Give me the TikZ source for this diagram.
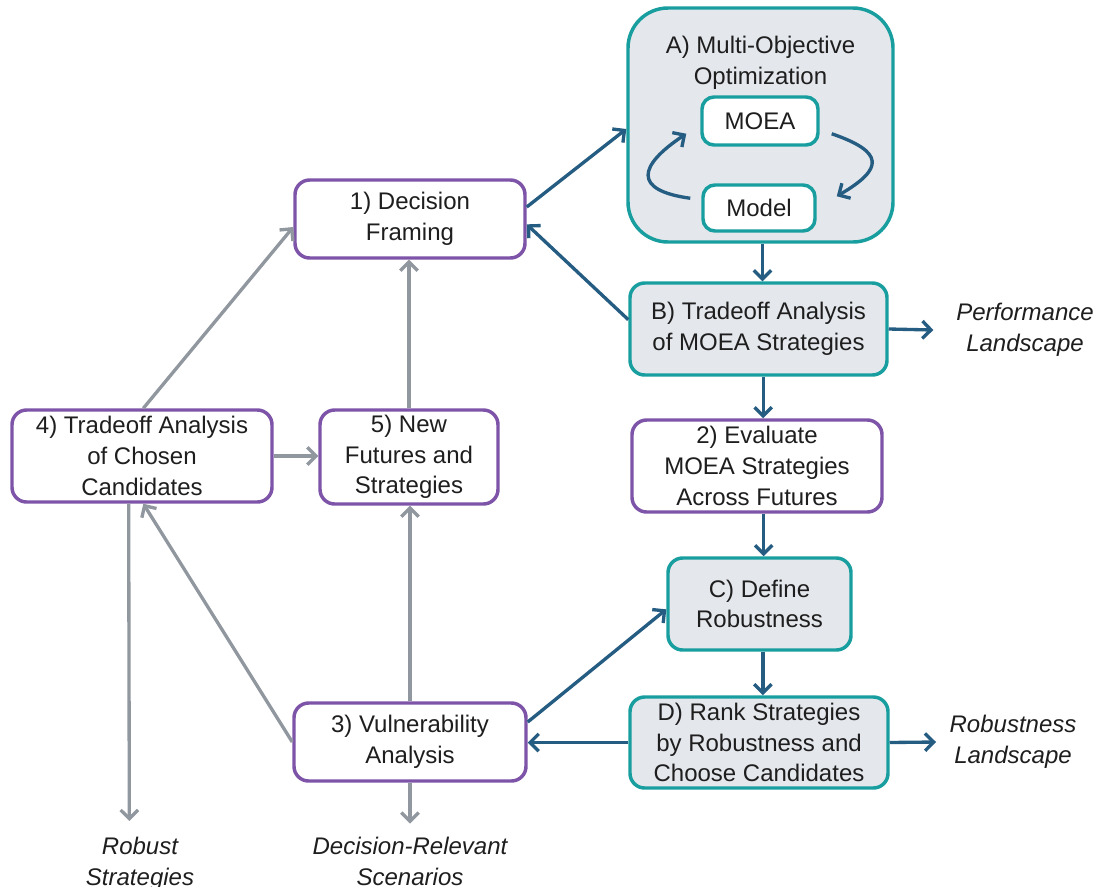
\documentclass[tikz,border=0pt]{standalone}
\usepackage{fontspec}
\setmainfont{Liberation Sans}
\usetikzlibrary{arrows.meta}

\definecolor{stagepurple}{RGB}{125,84,168}
\definecolor{toolteal}{RGB}{24,158,158}
\definecolor{panelgray}{RGB}{228,231,236}
\definecolor{flownavy}{RGB}{37,92,130}
\definecolor{loopgray}{RGB}{145,151,158}
\definecolor{ink}{RGB}{30,30,30}

\begin{document}
\begin{tikzpicture}[x=0.75pt,y=0.75pt,
  every node/.style={font=\fontsize{18}{23}\selectfont, text=ink, align=center},
  stage/.style={draw=stagepurple, line width=2.6pt, rounded corners=11pt, fill=white, inner sep=0pt},
  tool/.style={draw=toolteal, line width=2.6pt, rounded corners=11pt, fill=panelgray, inner sep=0pt},
  inbox/.style={draw=toolteal, line width=2.6pt, rounded corners=9pt, fill=white, inner sep=0pt},
  outlab/.style={font=\fontsize{18}{23}\selectfont\itshape, inner sep=0pt},
  flow/.style={flownavy, line width=2.5pt, -{Straight Barb[length=6.5pt,width=13pt]}},
  back/.style={loopgray, line width=2.5pt, -{Straight Barb[length=6.5pt,width=13pt]}},
]
\useasboundingbox (0,0) rectangle (1099,-886);

% optimization panel
\node[tool, rounded corners=30pt, minimum width=198.75pt, minimum height=175.5pt] (A) at (760.5,-125) {};
\node (Atitle) at (760.5,-63) {A) Multi-Objective\\Optimization};
\node[inbox, minimum width=87pt, minimum height=36pt] (moea) at (760,-121) {MOEA};
\node[inbox, minimum width=84pt, minimum height=34.5pt] (model) at (759,-208) {Model};

% main stages
\node[stage, minimum width=172.5pt, minimum height=58.5pt] (n1) at (410,-219) {1) Decision\\Framing};
\node[tool, minimum width=192.75pt, minimum height=69pt] (B) at (758.5,-329) {B) Tradeoff Analysis\\of MOEA Strategies};
\node[stage, minimum width=187.5pt, minimum height=69pt] (n2) at (757,-466) {2) Evaluate\\MOEA Strategies\\Across Futures};
\node[tool, minimum width=137.25pt, minimum height=69pt] (C) at (759.5,-604) {C) Define\\Robustness};
\node[tool, minimum width=193.5pt, minimum height=68.25pt] (D) at (759,-742.5) {D) Rank Strategies\\by Robustness and\\Choose Candidates};
\node[stage, minimum width=195pt, minimum height=69pt] (n4) at (142,-456) {4) Tradeoff Analysis\\of Chosen\\Candidates};
\node[stage, minimum width=133.5pt, minimum height=70.5pt] (n5) at (409,-457) {5) New\\Futures and\\Strategies};
\node[stage, minimum width=174pt, minimum height=58.5pt] (n3) at (410,-742) {3) Vulnerability\\Analysis};

% outputs
\node[outlab] (perf) at (1025,-330) {Performance\\Landscape};
\node[outlab] (robl) at (1013,-742) {Robustness\\Landscape};
\node[outlab, anchor=north] (rs) at (140,-837) {Robust\\Strategies};
\node[outlab, anchor=north] (drs) at (410,-837) {Decision-Relevant\\Scenarios};

% optimization loop
\draw[flow] ([shift={(-11,-15)}]model.north west) .. controls +(-58,8) and +(-48,-32) .. ([shift={(-14,13)}]moea.south west);
\draw[flow] ([shift={(12,13)}]moea.south east) .. controls +(52,-18) and +(48,28) .. ([shift={(20,-13)}]model.north east);

% analysis chain
\draw[flow] ([yshift=9]n1.east) -- ([yshift=-3]A.west);
\draw[flow] ([xshift=1.5]A.south) -- ([xshift=1.5]A.south |- B.north);
\draw[flow] ([yshift=7]B.west) -- ([yshift=-4]n1.east);
\draw[flow] (B.east) -- ([xshift=-17pt]perf.west);
\draw[flow] ([xshift=3.5]B.south) -- ([xshift=3.5]B.south |- n2.north);
\draw[flow] ([xshift=5]n2.south) -- ([xshift=5]n2.south |- C.north);
\draw[flow] ([xshift=2.5]C.south) -- ([xshift=2.5]C.south |- D.north);
\draw[flow] (D.east) -- ([xshift=-10pt]robl.west);
\draw[flow] (D.west) -- (D.west -| n3.east);
\draw[flow] ([yshift=15]n3.east) -- ([yshift=-4]C.west);

% iteration paths
\draw[back] (n3.north) -- (n3.north |- n5.south);
\draw[back] (n5.north) -- (n5.north |- n1.south);
\draw[back] (n4.east) -- (n4.east -| n5.west);
\draw[back] ([xshift=1]n4.north) -- ([yshift=-6]n1.west);
\draw[back] (n3.west) -- ([xshift=1]n4.south);
\draw[back] ([xshift=-10]n4.south) -- ([xshift=-8,yshift=12]rs.north);
\draw[back] (n3.south) -- ([yshift=10]drs.north);
\end{tikzpicture}
\end{document}
